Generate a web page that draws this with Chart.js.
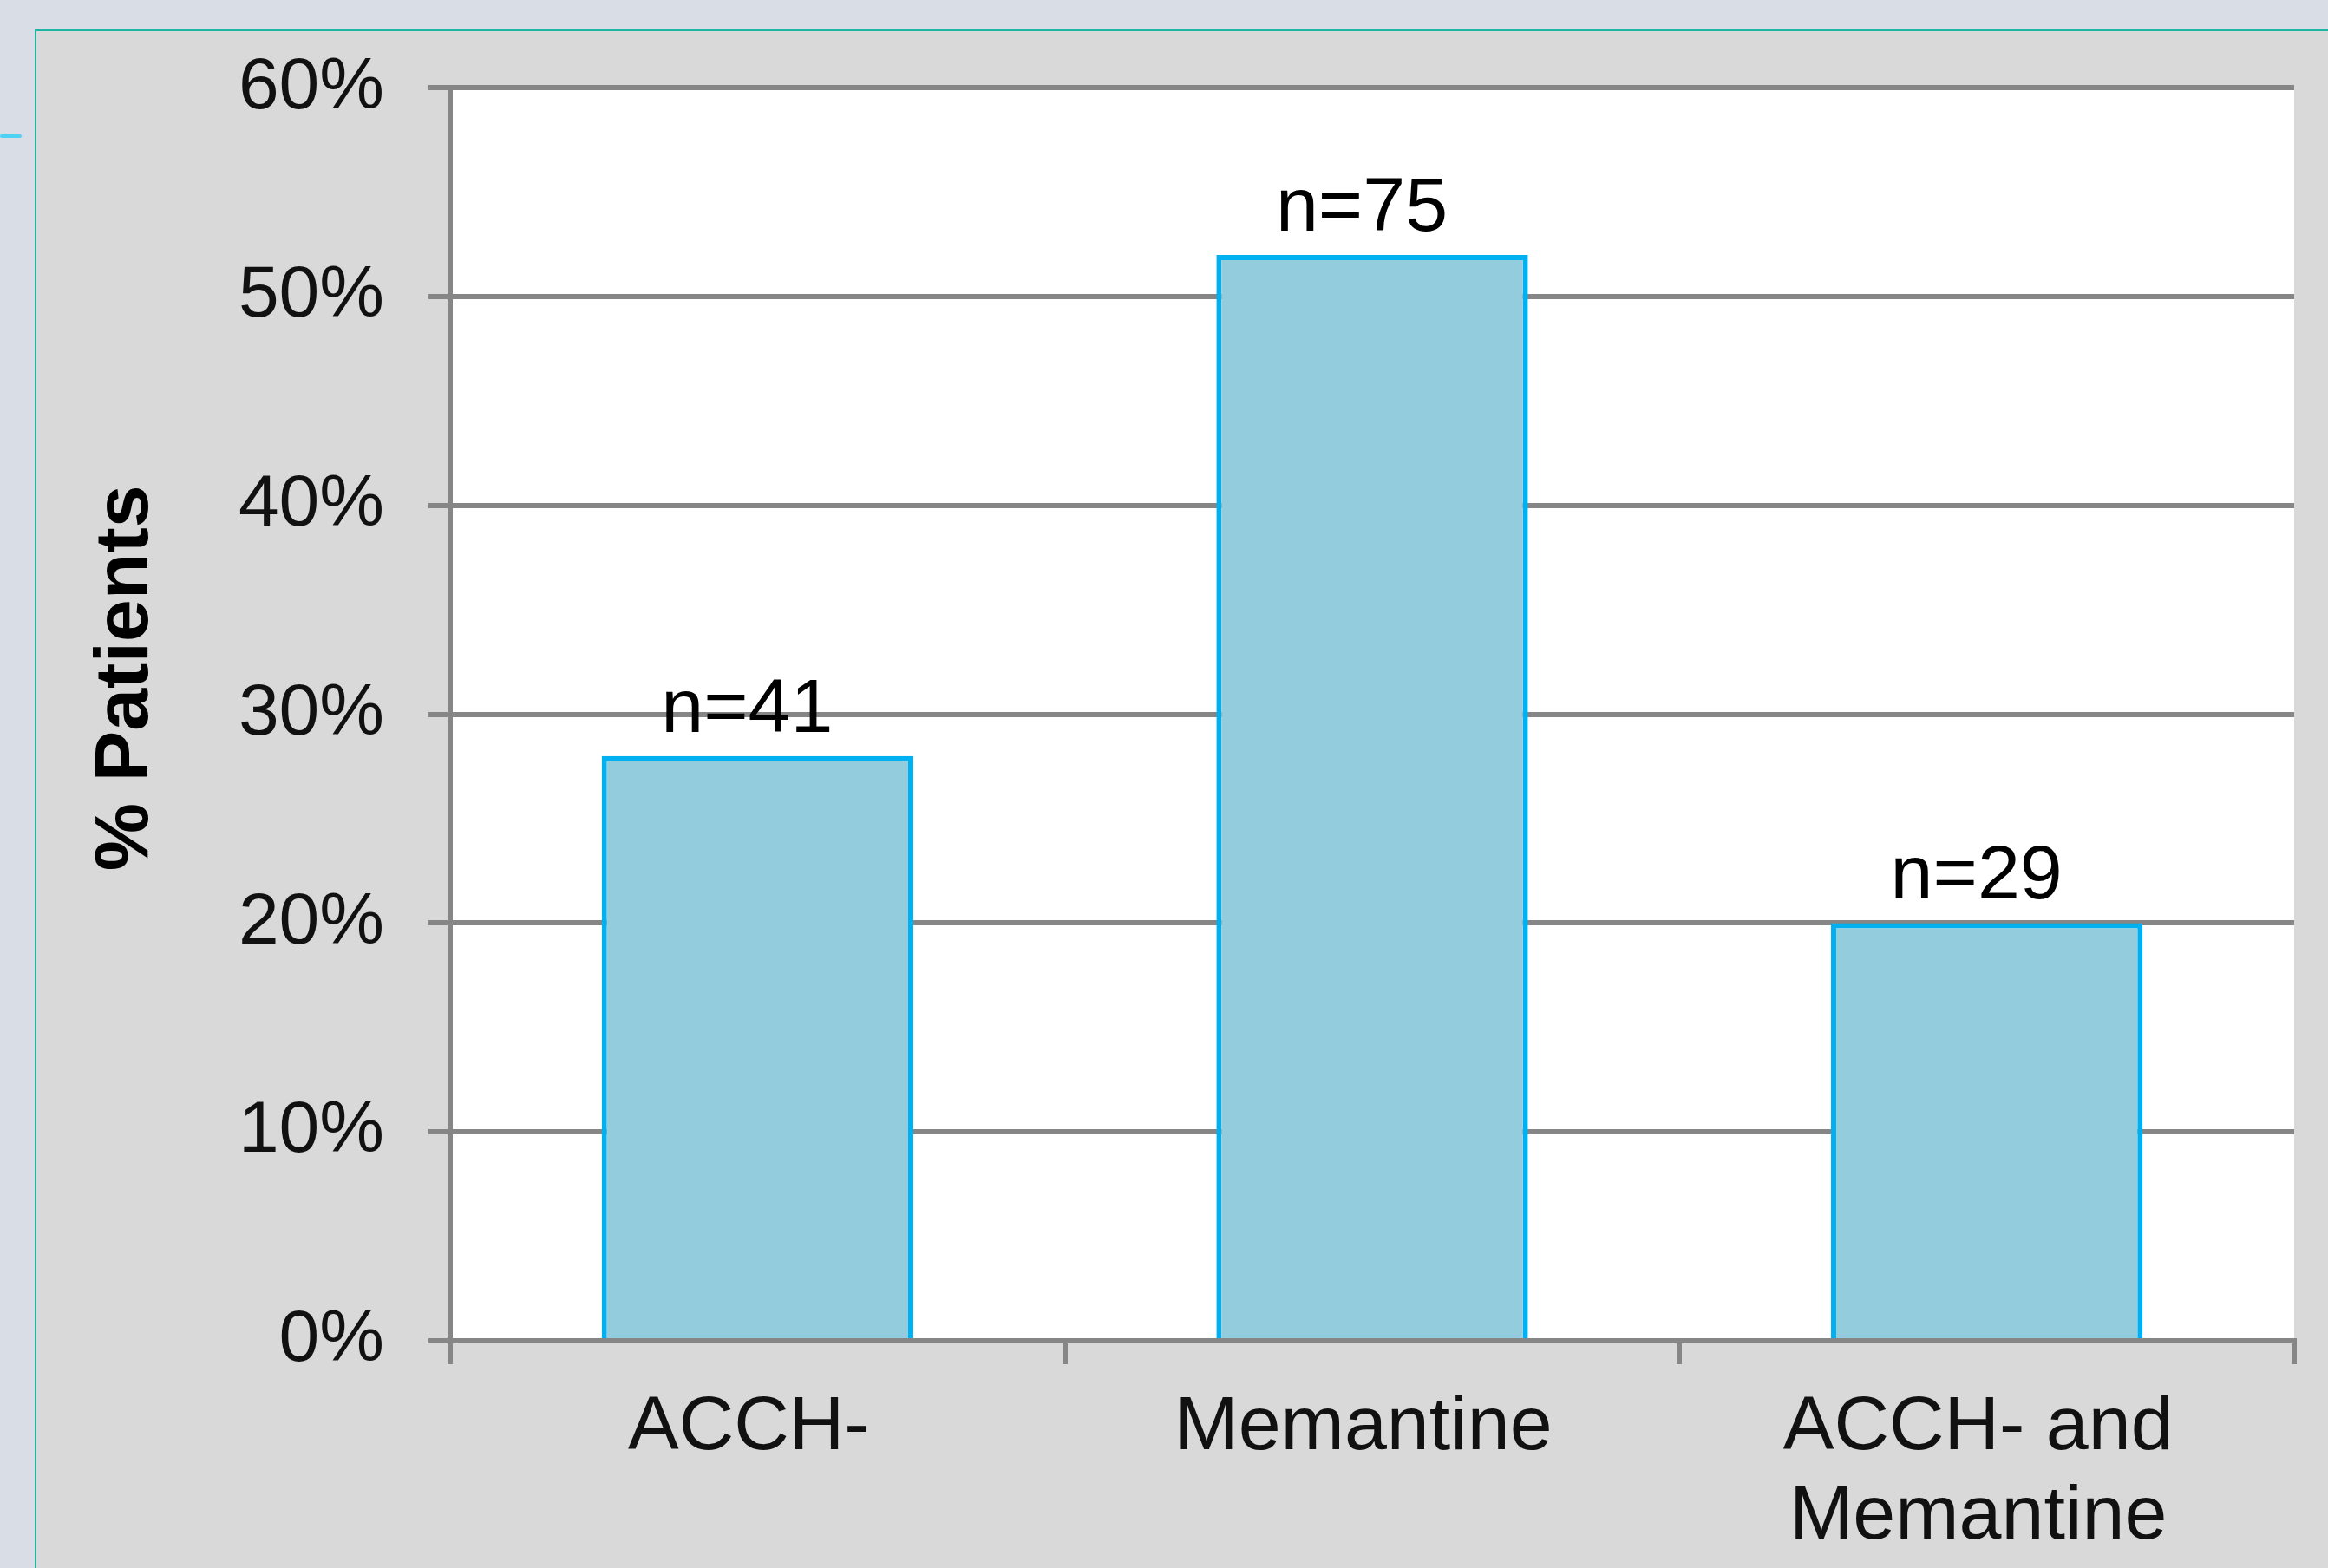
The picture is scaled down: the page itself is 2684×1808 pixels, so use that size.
<!DOCTYPE html>
<html>
<head>
<meta charset="utf-8">
<script src="https://cdn.jsdelivr.net/npm/chart.js@4/dist/chart.umd.min.js"></script>
<style>
  html, body { margin: 0; padding: 0; background: #d9dee6; overflow: hidden; }
  #panel {
    position: absolute; left: 40px; top: 33px; right: 0; bottom: 0;
    background: #d9d9d9;
    border-top: 3px solid #1db5a0;
    border-left: 2px solid #1db5a0;
  }
  #marker {
    position: absolute; left: 0; top: 155px; width: 25px; height: 4px;
    background: #4dd2f5; border-radius: 2px;
  }
  #chart { position: absolute; left: 0; top: 0; }
</style>
</head>
<body>
<div id="panel"></div>
<div id="marker"></div>
<canvas id="chart" width="2684" height="1808"></canvas>
<script>
// Treatment groups along the x axis
const categories = ['ACCH-', 'Memantine', ['ACCH- and', 'Memantine']];
// Share of patients in each group (%)
const percentPatients = [28, 52, 20];
// Group sizes printed above the bars
const groupSizes = ['n=41', 'n=75', 'n=29'];
// Y axis range and step (%)
const yMin = 0, yMax = 60, yStep = 10;

const FONT = "'Liberation Sans', Arial, sans-serif";
const AXIS_GREY = '#868686';

const plotBackground = {
  id: 'plotBackground',
  beforeDraw(chart) {
    const { ctx, chartArea: a } = chart;
    ctx.save();
    ctx.fillStyle = '#ffffff';
    ctx.fillRect(a.left, a.top, a.right - a.left, a.bottom - a.top);
    ctx.restore();
  }
};

const barNotes = {
  id: 'barNotes',
  afterDatasetsDraw(chart) {
    const { ctx } = chart;
    const meta = chart.getDatasetMeta(0);
    ctx.save();
    ctx.font = '88px ' + FONT;
    ctx.fillStyle = '#000000';
    ctx.textAlign = 'center';
    ctx.textBaseline = 'alphabetic';
    meta.data.forEach((bar, i) => {
      ctx.fillText(groupSizes[i], bar.x - 12, bar.y - 28);
    });
    ctx.restore();
  }
};

const yTitle = {
  id: 'yTitle',
  afterDraw(chart) {
    const { ctx, chartArea: a } = chart;
    ctx.save();
    ctx.translate(146, (a.top + a.bottom) / 2 - 42);
    ctx.rotate(-Math.PI / 2);
    ctx.font = 'bold 88px ' + FONT;
    ctx.fillStyle = '#000000';
    ctx.textAlign = 'center';
    ctx.textBaseline = 'middle';
    ctx.fillText('% Patients', 0, 0);
    ctx.restore();
  }
};

new Chart(document.getElementById('chart'), {
  type: 'bar',
  data: {
    labels: categories,
    datasets: [{
      data: percentPatients,
      backgroundColor: '#93cddd',
      borderColor: '#00b0f0',
      borderWidth: 6,
      borderSkipped: 'bottom',
      barPercentage: 0.507,
      categoryPercentage: 1.0
    }]
  },
  options: {
    responsive: false,
    devicePixelRatio: 1,
    animation: false,
    events: [],
    layout: { padding: { left: 0, top: 92, right: 39, bottom: 0 } },
    plugins: {
      legend: { display: false },
      tooltip: { enabled: false },
      title: { display: false }
    },
    scales: {
      x: {
        z: 1,
        afterFit(scale) { scale.height = 262; },
        grid: {
          offset: true,
          drawOnChartArea: false,
          drawTicks: true,
          tickLength: 27,
          color: AXIS_GREY,
          lineWidth: 6
        },
        border: { display: true, color: AXIS_GREY, width: 6 },
        ticks: {
          color: '#111111',
          padding: 22,
          labelOffset: -10,
          maxRotation: 0,
          autoSkip: false,
          font: { family: FONT, size: 88, lineHeight: 1.17 }
        }
      },
      y: {
        min: yMin,
        max: yMax,
        afterFit(scale) { scale.width = 519; },
        grid: {
          color: AXIS_GREY,
          lineWidth: 6,
          drawTicks: true,
          tickLength: 25
        },
        border: { display: true, color: AXIS_GREY, width: 6 },
        ticks: {
          stepSize: yStep,
          color: '#111111',
          padding: 51,
          font: { family: FONT, size: 84 },
          callback: v => v + '%'
        }
      }
    }
  },
  plugins: [plotBackground, barNotes, yTitle]
});
</script>
</body>
</html>
